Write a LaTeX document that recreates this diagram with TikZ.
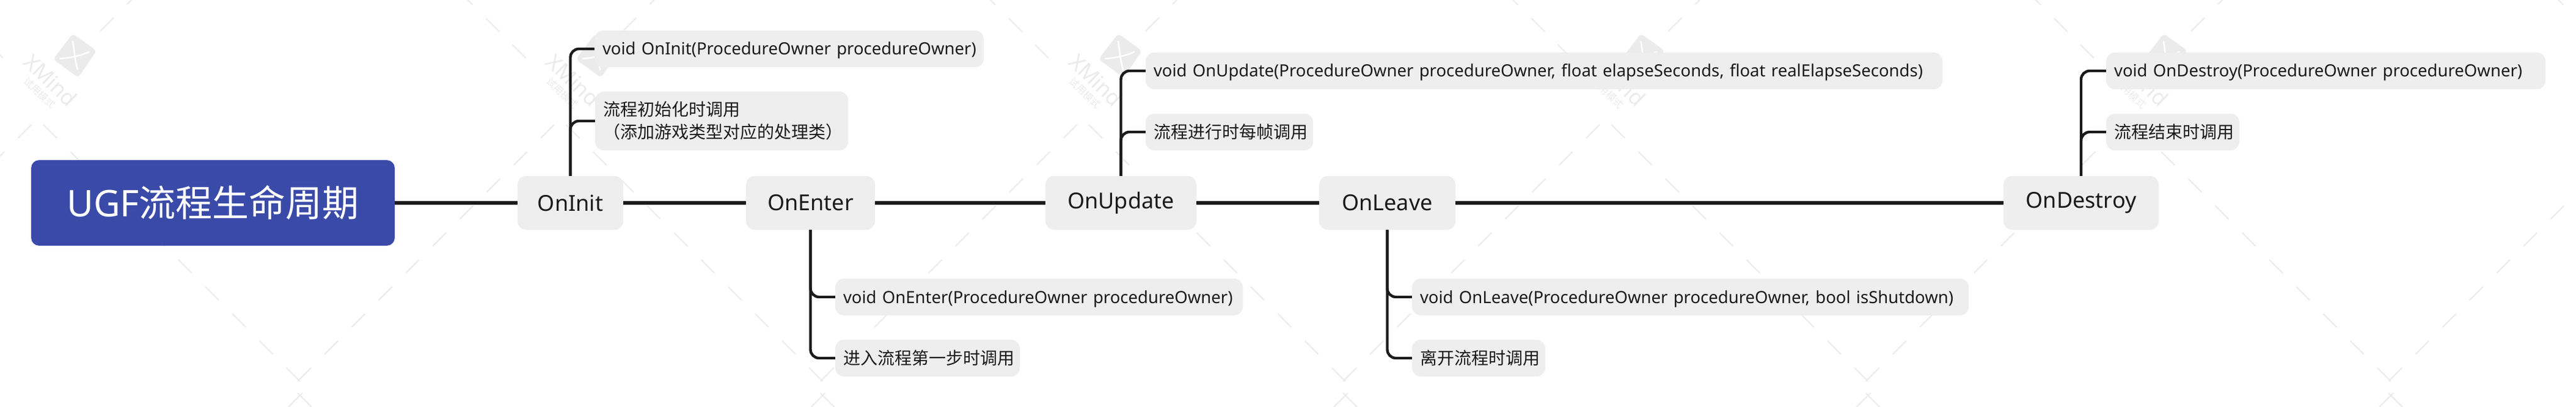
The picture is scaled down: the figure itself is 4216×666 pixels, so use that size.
\documentclass[tikz,border=0pt]{standalone}
\usepackage{fontspec}
\setmainfont{Noto Sans}
\newfontfamily\cjk{Noto Sans CJK SC}
\definecolor{rootblue}{HTML}{3A4AA8}
\definecolor{boxgrey}{HTML}{EEEEEE}
\definecolor{inkdark}{HTML}{1A1A1A}
\definecolor{wmgrey}{HTML}{EBEBEB}
\newcommand{\sigtext}[1]{\raisebox{0pt}[20pt][0pt]{\fontsize{27.5}{37}\selectfont #1}}
\tikzset{
  rootbox/.style={fill=rootblue,text=white,rounded corners=13pt,inner sep=0pt,minimum height=140pt,minimum width=595pt,font=\fontsize{60}{64}\selectfont},
  mainbox/.style={fill=boxgrey,text=inkdark,rounded corners=14pt,inner sep=0pt,minimum height=88pt,font=\fontsize{36}{40}\selectfont},
  subbox/.style={fill=boxgrey,text=inkdark,rounded corners=14pt,inner ysep=0pt,inner xsep=13pt,minimum height=60pt,align=left,font=\fontsize{28}{37}\selectfont},
  mainline/.style={draw=inkdark,line width=6pt},
  subline/.style={draw=inkdark,line width=4.4pt,rounded corners=14pt},
  wmdash/.style={draw=wmgrey,line width=2pt},
}
\begin{document}
\begin{tikzpicture}[x=1pt,y=-1pt]
\useasboundingbox (0,0) rectangle (4216,666);
\fill[white] (0,0) rectangle (4216,666);
% watermark
\begin{scope}
\clip (0,0) rectangle (4216,666);
\foreach \k in {-1,0,1,2,3,4,5}{
  \pgfmathsetmacro{\X}{855.5*\k}
  \begin{scope}[xshift=\X pt]
    \foreach \i in {0,...,9}{
      \pgfmathsetmacro{\ya}{204+44.2*\i}
      \pgfmathsetmacro{\yb}{\ya+22}
      \draw[wmdash] ({\ya-133},\ya) -- ({\yb-133},\yb);
      \draw[wmdash] ({1111-\ya},\ya) -- ({1111-\yb},\yb);
    }
    \foreach \ya in {-14,30,73}{
      \draw[wmdash] ({\ya-90},\ya) -- ({\ya+22-90},\ya+22);
    }
    \foreach \ya in {-15,29}{
      \draw[wmdash] ({215-\ya},\ya) -- ({215-\ya-22},\ya+22);
    }
    \draw[wmdash] (495,643) -- (472,666);
    \draw[wmdash] (487,643) -- (510,666);
  \end{scope}
}
\foreach \k in {0,1,2,3,4}{
  \pgfmathsetmacro{\X}{855.5*\k}
  \begin{scope}[xshift=\X pt]
    \fill[wmgrey,rounded corners=6pt] (119,55) -- (158,83) -- (128,127) -- (87,97) -- cycle;
    \draw[white,line width=2.6pt,line cap=round] (119,68) .. controls (122,85) and (122,96) .. (127,114);
    \draw[white,line width=2.6pt,line cap=round] (98,96) .. controls (112,95) and (130,92) .. (145,85);
    \node[text=wmgrey,rotate=-44,inner sep=0pt,font=\fontsize{35}{35}\selectfont\bfseries] at (83,131) {XMind};
    \node[text=wmgrey,rotate=-44,inner sep=0pt,font=\fontsize{16}{16}\selectfont\cjk] at (65,152) {试用模式};
  \end{scope}
}
\end{scope}
% nodes
\node[rootbox] (root) at (348.5,332) {UGF{\cjk 流程生命周期}};
\node[mainbox,minimum width=173pt] (oninit) at (933.5,332) {OnInit};
\node[mainbox,minimum width=211pt] (onenter) at (1326.5,332) {OnEnter};
\node[mainbox,minimum width=247pt] (onupdate) at (1834.5,332) {OnUpdate};
\node[mainbox,minimum width=223pt] (onleave) at (2270.5,332) {OnLeave};
\node[mainbox,minimum width=254pt] (ondestroy) at (3406,332) {OnDestroy};
\node[subbox,text width=611pt] (initsig) at (1291.5,80) {\sigtext{void OnInit(ProcedureOwner procedureOwner)}};
\node[subbox,text width=388pt,minimum height=96pt] (initnote) at (1181,198) {\cjk\mbox{流程初始化时调用}\\\mbox{（添加游戏类型对应的处理类）}};
\node[subbox,text width=641pt] (entersig) at (1700.5,486) {\sigtext{void OnEnter(ProcedureOwner procedureOwner)}};
\node[subbox,text width=276pt] (enternote) at (1518,586) {\cjk\mbox{进入流程第一步时调用}};
\node[subbox,text width=1278pt] (updatesig) at (2527,116) {\sigtext{void OnUpdate(ProcedureOwner procedureOwner, float elapseSeconds, float realElapseSeconds)}};
\node[subbox,text width=248pt] (updatenote) at (2012,216) {\cjk\mbox{流程进行时每帧调用}};
\node[subbox,text width=885pt] (leavesig) at (2766.5,486) {\sigtext{void OnLeave(ProcedureOwner procedureOwner, bool isShutdown)}};
\node[subbox,text width=192pt] (leavenote) at (2420,586) {\cjk\mbox{离开流程时调用}};
\node[subbox,text width=693pt] (destroysig) at (3806.5,116) {\sigtext{void OnDestroy(ProcedureOwner procedureOwner)}};
\node[subbox,text width=192pt] (destroynote) at (3556,216) {\cjk\mbox{流程结束时调用}};
% connectors
\draw[mainline] (root) -- (oninit);
\draw[mainline] (oninit) -- (onenter);
\draw[mainline] (onenter) -- (onupdate);
\draw[mainline] (onupdate) -- (onleave);
\draw[mainline] (onleave) -- (ondestroy);
\draw[subline] (oninit.north) |- (initsig.west);
\draw[subline] (oninit.north) |- (initnote.west);
\draw[subline] (onenter.south) |- (entersig.west);
\draw[subline] (onenter.south) |- (enternote.west);
\draw[subline] (onupdate.north) |- (updatesig.west);
\draw[subline] (onupdate.north) |- (updatenote.west);
\draw[subline] (onleave.south) |- (leavesig.west);
\draw[subline] (onleave.south) |- (leavenote.west);
\draw[subline] (ondestroy.north) |- (destroysig.west);
\draw[subline] (ondestroy.north) |- (destroynote.west);
\end{tikzpicture}
\end{document}
